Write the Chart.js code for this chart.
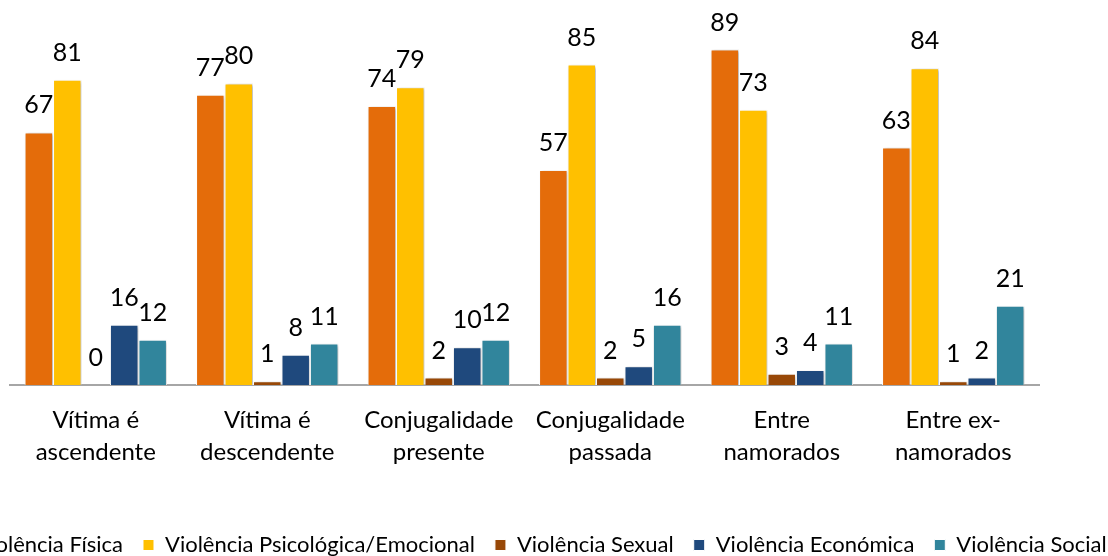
<!DOCTYPE html>
<html>
<head>
<meta charset="utf-8">
<script src="https://cdn.jsdelivr.net/npm/chart.js@4.4.1/dist/chart.umd.min.js"></script>
<style>
  html, body { margin: 0; padding: 0; background: #fff; overflow: hidden; }
  body { width: 1108px; height: 556px; position: relative; }
  #grafico { position: absolute; left: -90px; top: 0; }
</style>
</head>
<body>
<canvas id="grafico" width="1240" height="566"></canvas>
<script>
// Categorias (eixo x)
var categorias = [
  ['Vítima é', 'ascendente'],
  ['Vítima é', 'descendente'],
  ['Conjugalidade', 'presente'],
  ['Conjugalidade', 'passada'],
  ['Entre', 'namorados'],
  ['Entre ex-', 'namorados']
];

// Valores por tipo de violencia
var fisica = [67, 77, 74, 57, 89, 63];
var psicologica = [81, 80, 79, 85, 73, 84];
var sexual = [0, 1, 2, 2, 3, 1];
var economica = [16, 8, 10, 5, 4, 2];
var social = [12, 11, 12, 16, 11, 21];

function serie(label, data, cor) {
  return {
    label: label,
    data: data,
    backgroundColor: cor,
    borderColor: '#ffffff',
    borderWidth: 1,
    barPercentage: 1,
    categoryPercentage: 0.83,
    yAxisID: 'y'
  };
}

// sombra nas barras e numeros por cima
var rotulos = {
  id: 'rotulos',
  beforeDatasetsDraw: function (chart) {
    var c = chart.ctx;
    c.save();
    c.shadowColor = 'rgba(0,0,0,0.28)';
    c.shadowBlur = 3;
    c.shadowOffsetX = 1.5;
    c.shadowOffsetY = 1;
  },
  afterDatasetsDraw: function (chart) {
    var c = chart.ctx;
    c.restore();
    c.save();
    c.font = '25px Lato';
    c.fillStyle = '#000';
    c.textAlign = 'center';
    c.textBaseline = 'middle';
    chart.data.datasets.forEach(function (ds, i) {
      chart.getDatasetMeta(i).data.forEach(function (bar, j) {
        c.fillText(ds.data[j], bar.x, bar.y - 27);
      });
    });
    c.restore();
  }
};

var ctx = document.getElementById('grafico').getContext('2d');
var grafico = new Chart(ctx, {
  type: 'bar',
  data: {
    labels: categorias,
    datasets: [
      serie('Violência Física', fisica, '#E46C0A'),
      serie('Violência Psicológica/Emocional', psicologica, '#FFC000'),
      serie('Violência Sexual', sexual, '#984807'),
      serie('Violência Económica', economica, '#1F497D'),
      serie('Violência Social', social, '#31859C')
    ]
  },
  options: {
    responsive: false,
    animation: false,
    devicePixelRatio: 1,
    layout: { padding: { top: 8 } },
    scales: {
      x: {
        grid: { display: false, drawTicks: false },
        border: { display: true, color: '#A6A6A6', width: 2 },
        ticks: {
          color: '#000',
          padding: 19,
          maxRotation: 0,
          autoSkip: false,
          font: { family: 'Lato', size: 24, lineHeight: 1.3333 }
        },
        afterFit: function (s) { s.height = 129; }
      },
      y: {
        position: 'left',
        min: 0,
        max: 100,
        grid: { display: false },
        border: { display: false },
        ticks: { display: false },
        afterFit: function (s) { s.width = 100; }
      },
      y2: {
        position: 'right',
        grid: { display: false },
        border: { display: false },
        ticks: { display: false },
        afterFit: function (s) { s.width = 111; }
      }
    },
    plugins: {
      legend: {
        position: 'bottom',
        labels: {
          color: '#000',
          boxWidth: 11,
          boxHeight: 11,
          padding: 20,
          font: { family: 'Lato', size: 22 }
        }
      },
      tooltip: { enabled: false }
    }
  },
  plugins: [rotulos]
});
</script>
</body>
</html>
